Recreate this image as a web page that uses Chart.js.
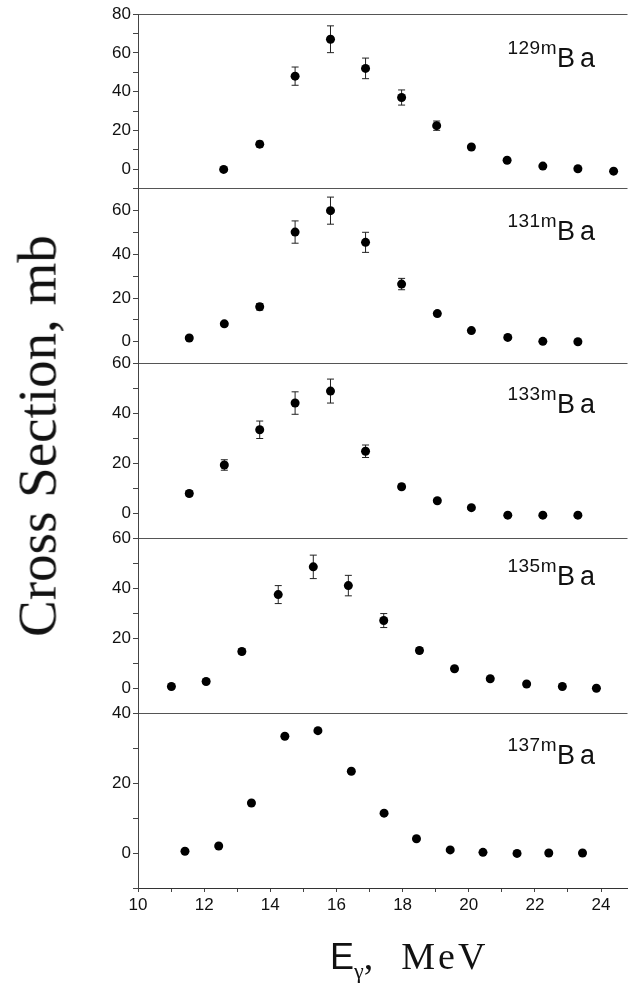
<!DOCTYPE html>
<html>
<head>
<meta charset="utf-8">
<script src="https://cdn.jsdelivr.net/npm/chart.js@4.4.1/dist/chart.umd.min.js"></script>
<style>
  html, body { margin: 0; padding: 0; background: #fff; }
  #wrap { position: relative; width: 632px; height: 988px; overflow: hidden; }
  #plot { position: absolute; left: 0; top: 0; }
  .iso { position: absolute; right: 32px; font-family: "Liberation Sans", Arial, sans-serif; font-size: 27px; line-height: 1; color: #111; letter-spacing: 5px; white-space: nowrap; }
  .iso sup { font-size: 19px; letter-spacing: 0.5px; vertical-align: 13px; line-height: 0; }
  #ytitle { position: absolute; left: 37px; top: 436px; transform: translate(-50%, -50%) rotate(-90deg); font-family: "Liberation Serif", "Times New Roman", serif; font-size: 55px; line-height: 1; white-space: nowrap; color: #111; }
  #xtitle { position: absolute; left: 330px; top: 937px; white-space: nowrap; color: #111; line-height: 1; }
  #xtitle .e { font-family: "Liberation Sans", Arial, sans-serif; font-size: 36px; }
  #xtitle sub { font-family: "Liberation Serif", serif; font-size: 22px; vertical-align: -9px; line-height: 0; }
  #xtitle .u { font-family: "Liberation Serif", serif; font-size: 38px; letter-spacing: 3px; }
</style>
</head>
<body>
<div id="wrap">
  <canvas id="plot" width="632" height="988"></canvas>
  <div class="iso" style="top:45px"><sup>129m</sup>Ba</div>
  <div class="iso" style="top:218px"><sup>131m</sup>Ba</div>
  <div class="iso" style="top:391px"><sup>133m</sup>Ba</div>
  <div class="iso" style="top:563px"><sup>135m</sup>Ba</div>
  <div class="iso" style="top:742px"><sup>137m</sup>Ba</div>
  <div id="ytitle">Cross Section, mb</div>
  <div id="xtitle"><span class="e">E</span><sub>γ</sub><span class="u">,&nbsp;&nbsp;MeV</span></div>
</div>
<script>
// energies (MeV) and cross sections (mb)
const e129 = [12.59, 13.68, 14.75, 15.82, 16.88, 17.97, 19.03, 20.08, 21.16, 22.24, 23.30, 24.38];
const s129 = [0, 13, 48, 67, 52, 37, 22.5, 11.5, 4.7, 1.7, 0.3, -0.9];
const d129 = [1, 1.5, 4.7, 6.9, 5.3, 3.9, 2.4, 1, 0.8, 0.5, 0.5, 0.5];

const e131 = [11.55, 12.61, 13.68, 14.75, 15.82, 16.88, 17.97, 19.05, 20.08, 21.18, 22.24, 23.30];
const s131 = [1.7, 8.2, 16.0, 50.2, 60, 45.5, 26.4, 12.9, 5.1, 2.0, 0.2, 0];
const d131 = [0.8, 1, 1.5, 5.1, 6.2, 4.6, 2.6, 1, 0.6, 0.5, 0.5, 0.5];

const e133 = [11.55, 12.61, 13.68, 14.75, 15.82, 16.88, 17.97, 19.05, 20.08, 21.18, 22.24, 23.30];
const s133 = [8.0, 19.4, 33.5, 44.2, 49.0, 24.9, 10.7, 5.1, 2.3, -0.7, -0.7, -0.7];
const d133 = [1, 2.1, 3.5, 4.5, 4.8, 2.5, 1, 0.6, 0.6, 0.5, 0.5, 0.5];

const e135 = [11.01, 12.06, 13.14, 14.24, 15.30, 16.36, 17.43, 18.51, 19.57, 20.65, 21.75, 22.83, 23.86];
const s135 = [0.7, 2.7, 14.7, 37.5, 48.6, 41.1, 27.1, 15.1, 7.8, 3.8, 1.7, 0.7, 0];
const d135 = [0.5, 0.6, 1, 3.6, 4.7, 4.1, 2.8, 1, 0.8, 0.5, 0.5, 0.5, 0.5];

const e137 = [11.42, 12.44, 13.43, 14.44, 15.44, 16.45, 17.44, 18.42, 19.44, 20.43, 21.46, 22.42, 23.44];
const s137 = [0.5, 2.0, 14.3, 33.4, 35.0, 23.4, 11.4, 4.1, 0.9, 0.2, -0.1, 0, 0];

// axis ticks
const xTicks = [10, 11, 12, 13, 14, 15, 16, 17, 18, 19, 20, 21, 22, 23, 24];
const xLabels = [10, 12, 14, 16, 18, 20, 22, 24];
const yRanges = [[-10, 80], [-10, 70], [-10, 60], [-10, 60], [-10, 40]];
const yLabels = [[0, 20, 40, 60, 80], [0, 20, 40, 60], [0, 20, 40, 60], [0, 20, 40, 60], [0, 20, 40]];

const panels = [
  { id: 'y1', e: e129, s: s129, d: d129 },
  { id: 'y2', e: e131, s: s131, d: d131 },
  { id: 'y3', e: e133, s: s133, d: d133 },
  { id: 'y4', e: e135, s: s135, d: d135 },
  { id: 'y5', e: e137, s: s137, d: null }
];

const errorBars = {
  id: 'errorBars',
  beforeDatasetsDraw(chart) {
    const ctx = chart.ctx;
    chart.data.datasets.forEach((ds, i) => {
      if (!ds.errors) return;
      const ys = chart.scales[ds.yAxisID];
      const meta = chart.getDatasetMeta(i);
      ctx.save();
      ctx.strokeStyle = '#222';
      ctx.lineWidth = 1;
      meta.data.forEach((pt, j) => {
        const v = ds.data[j].y, err = ds.errors[j];
        const top = ys.getPixelForValue(v + err);
        const bot = ys.getPixelForValue(v - err);
        ctx.beginPath();
        ctx.moveTo(pt.x, top); ctx.lineTo(pt.x, bot);
        ctx.moveTo(pt.x - 3.5, top); ctx.lineTo(pt.x + 3.5, top);
        ctx.moveTo(pt.x - 3.5, bot); ctx.lineTo(pt.x + 3.5, bot);
        ctx.stroke();
      });
      ctx.restore();
    });
  }
};

const tickFont = { family: '"Liberation Sans", Arial, sans-serif', size: 17 };

const scales = {
  x: {
    type: 'linear', min: 10, max: 24.8,
    afterBuildTicks: ax => { ax.ticks = xTicks.map(v => ({ value: v })); },
    afterFit: ax => { ax.height = 100; ax.paddingRight = 0; ax.paddingLeft = 0; },
    ticks: {
      color: '#111', font: tickFont, padding: 3, maxRotation: 0, autoSkip: false,
      callback: v => xLabels.includes(v) ? String(v) : ''
    },
    grid: { drawOnChartArea: false, tickLength: 4, color: '#444' },
    border: { color: '#333' }
  }
};

panels.forEach((p, k) => {
  const [lo, hi] = yRanges[k];
  const all = [];
  for (let v = lo; v <= hi; v += 10) all.push(v);
  scales[p.id] = {
    type: 'linear', position: 'left', stack: 'panels', stackWeight: 1, weight: 5 - k,
    min: lo, max: hi,
    afterBuildTicks: ax => { ax.ticks = all.map(v => ({ value: v })); },
    afterFit: ax => { ax.width = 138; },
    ticks: {
      color: '#111', font: tickFont, padding: 2, autoSkip: false,
      callback: v => yLabels[k].includes(v) ? String(v) : ''
    },
    grid: {
      tickLength: 5, tickColor: '#444',
      color: c => (c.tick && c.tick.value === hi) ? '#555' : 'rgba(0,0,0,0)'
    },
    border: { color: '#444' }
  };
});

new Chart(document.getElementById('plot'), {
  type: 'scatter',
  data: {
    datasets: panels.map(p => ({
      yAxisID: p.id,
      data: p.e.map((x, i) => ({ x: x, y: p.s[i] })),
      errors: p.d,
      pointRadius: 4.5,
      pointBackgroundColor: '#000',
      pointBorderColor: '#000',
      pointBorderWidth: 0
    }))
  },
  options: {
    responsive: false,
    animation: false,
    layout: { padding: { top: 14, right: 0, left: 0, bottom: 0 } },
    plugins: { legend: { display: false }, tooltip: { enabled: false } },
    scales: scales
  },
  plugins: [errorBars]
});
</script>
</body>
</html>
